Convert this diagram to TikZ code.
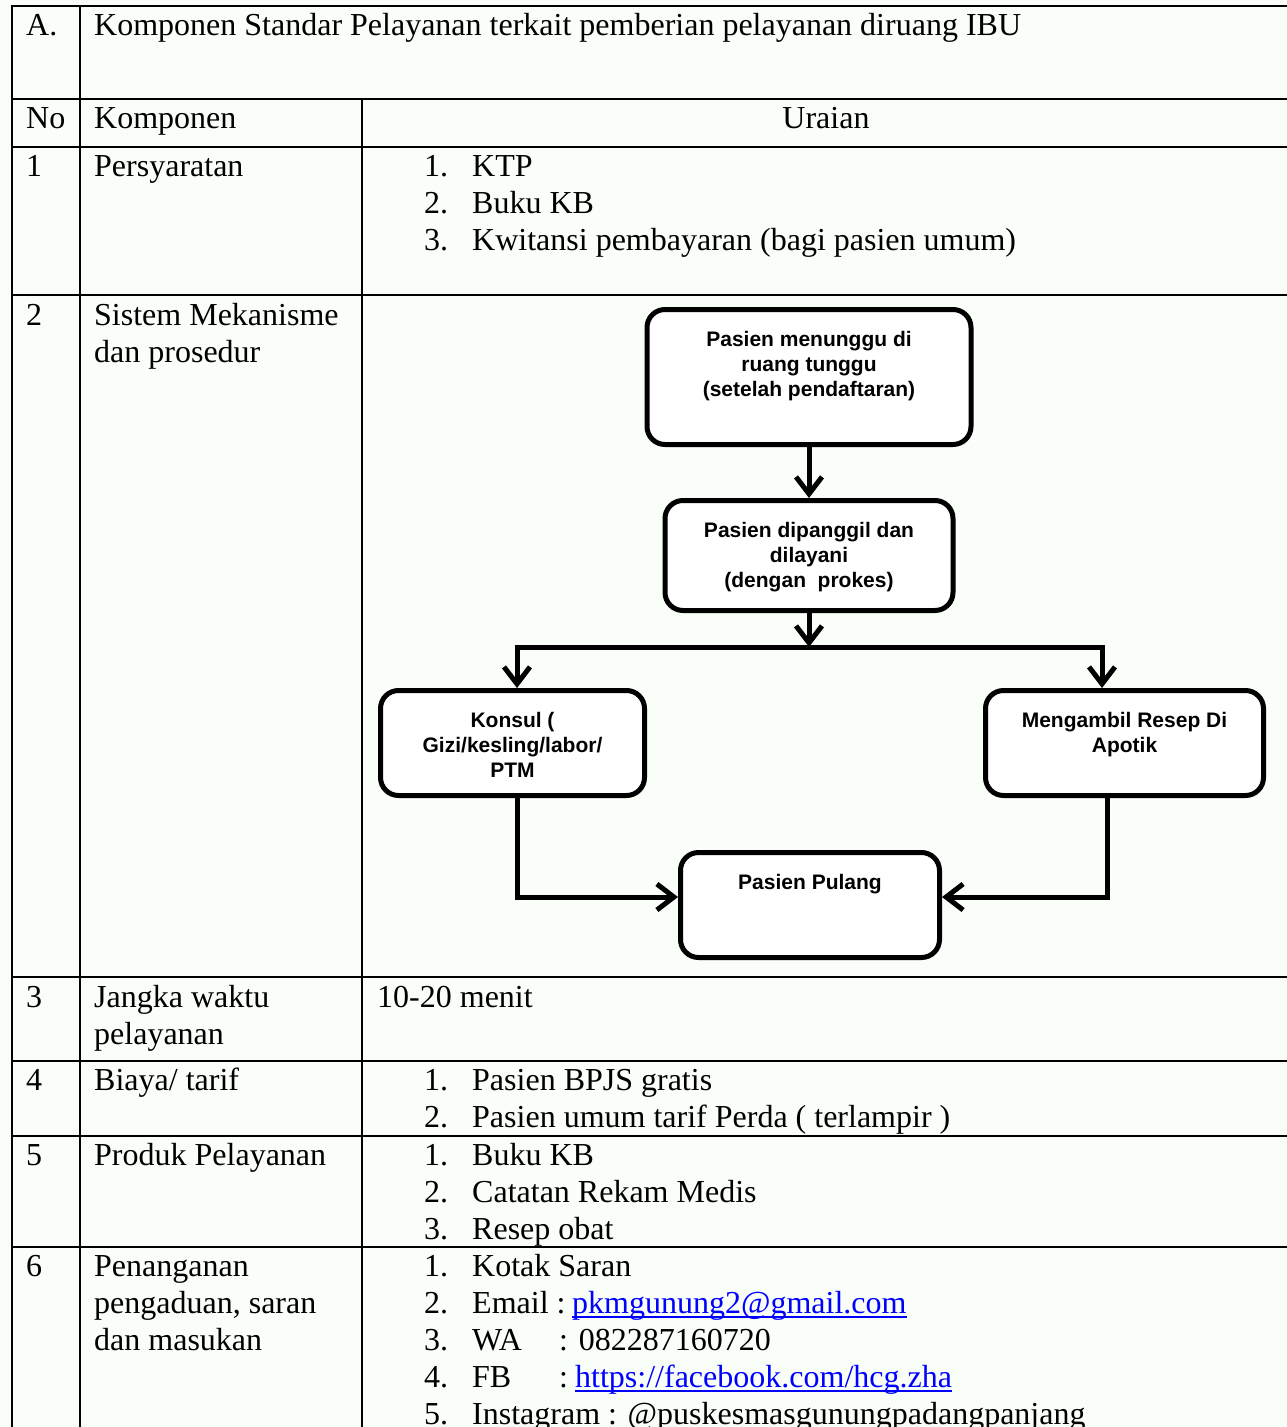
\documentclass[tikz,border=0pt]{standalone}
\usepackage{fontspec}
\setmainfont{Liberation Serif}
\newfontfamily\flowfont{Liberation Sans}
\usetikzlibrary{arrows.meta,positioning}
\definecolor{pagetint}{RGB}{249,254,249}
\definecolor{linkblue}{RGB}{0,0,255}
\tikzset{
  gridline/.style={black, line width=2pt},
  txt/.style={anchor=base west, inner sep=0pt, font=\fontsize{32}{37}\selectfont},
  flowbox/.style={draw, line width=5pt, rounded corners=18pt, fill=white},
  flowtext/.style={anchor=north, inner sep=0pt, align=center, font=\flowfont\bfseries\fontsize{21}{25}\selectfont},
  flowarrow/.style={line width=5pt, -{Straight Barb[length=17pt,width=26pt]}},
  linkline/.style={linkblue, line width=1.6pt}
}
\begin{document}
\begin{tikzpicture}[x=1pt,y=-1pt]
\fill[pagetint] (0,0) rectangle (1287,1427);
\useasboundingbox (0,0) rectangle (1287,1427);

% table grid
\foreach \y in {6,99,147,295,977,1061,1136,1247}{
	\draw[gridline](11,\y)--(1287,\y);
}
\draw[gridline](12,5)--(12,1427);
\draw[gridline](80,5)--(80,1427);
\draw[gridline](362,98)--(362,1427);

% header rows
\node[txt] (hA) at (26,35) {A.};
\node[txt] (htitle) at (94,35) {Komponen Standar Pelayanan terkait pemberian pelayanan diruang IBU};
\node[txt] (hno) at (26,128) {No};
\node[txt] (hkomp) at (94,128) {Komponen};
\node[txt, anchor=base] (hurai) at (826,128) {Uraian};

% no and komponen columns
\foreach \n/\y in {1/176,2/325,3/1007,4/1090,5/1165,6/1276}{
	\node[txt] (no\n) at (26,\y) {\n};
}
\foreach \name/\y/\txt in {kompA/176/Persyaratan, kompB/325/Sistem Mekanisme, kompBb/362/dan prosedur,
	kompC/1007/Jangka waktu, kompCb/1044/pelayanan, kompD/1090/{Biaya/ tarif}, kompE/1165/Produk Pelayanan,
	kompF/1276/Penanganan, kompFb/1313/{pengaduan, saran}, kompFc/1350/dan masukan}{
	\node[txt] (\name) at (94,\y) {\txt};
}

% uraian column
\foreach \k/\txt in {1/KTP, 2/Buku KB, 3/Kwitansi pembayaran (bagi pasien umum)}{
	\node[txt] (syaratno\k) at (424,{176+37*(\k-1)}) {\k.};
	\node[txt] (syarat\k) at (472,{176+37*(\k-1)}) {\txt};
}
\node[txt] (waktu) at (377,1007) {10-20 menit};
\foreach \k/\txt in {1/Pasien BPJS gratis, 2/Pasien umum tarif Perda ( terlampir )}{
	\node[txt] (biayano\k) at (424,{1090+37*(\k-1)}) {\k.};
	\node[txt] (biaya\k) at (472,{1090+37*(\k-1)}) {\txt};
}
\foreach \k/\txt in {1/Buku KB, 2/Catatan Rekam Medis, 3/Resep obat}{
	\node[txt] (produkno\k) at (424,{1165+37*(\k-1)}) {\k.};
	\node[txt] (produk\k) at (472,{1165+37*(\k-1)}) {\txt};
}
\foreach \k in {1,...,5}{
	\node[txt] (saranno\k) at (424,{1276+37*(\k-1)}) {\k.};
}
\node[txt] (saran1) at (472,1276) {Kotak Saran};
\node[txt] (saran2) at (472,1313) {Email :};
\node[txt, text=linkblue] (email) at (572,1313) {pkmgunung2@gmail.com};
\draw[linkline] ([yshift=-4pt]email.base west)--([yshift=-4pt]email.base east);
\node[txt] (saran3) at (472,1350) {WA};
\node[txt] (wa) at (559,1350) {: 082287160720};
\node[txt] (saran4) at (472,1387) {FB};
\node[txt] (fbcolon) at (559,1387) {:};
\node[txt, text=linkblue] (fb) at (575,1387) {https://facebook.com/hcg.zha};
\draw[linkline] ([yshift=-4pt]fb.base west)--([yshift=-4pt]fb.base east);
\node[txt] (saran5) at (472,1424) {Instagram : @puskesmasgunungpadangpanjang};

% flowchart boxes
\node[flowbox, minimum width=324pt, minimum height=135pt] (tunggu) at (809,377) {};
\node[flowtext, below=24pt of tunggu.north] (tunggutxt) {Pasien menunggu di\\ruang tunggu\\(setelah pendaftaran)};
\node[flowbox, minimum width=288pt, minimum height=110pt] (dipanggil) at (809,555.5) {};
\node[flowtext, below=24pt of dipanggil.north] (dipanggiltxt) {Pasien dipanggil dan\\dilayani\\(dengan~ prokes)};
\node[flowbox, minimum width=264pt, minimum height=105pt] (konsul) at (512.5,743) {};
\node[flowtext, below=24pt of konsul.north] (konsultxt) {Konsul (\\Gizi/kesling/labor/\\PTM};
\node[flowbox, minimum width=278pt, minimum height=105pt] (ambil) at (1124.5,743) {};
\node[flowtext, below=24pt of ambil.north] (ambiltxt) {Mengambil Resep Di\\Apotik};
\node[flowbox, minimum width=259pt, minimum height=105pt] (pulang) at (810,905) {};
\node[flowtext, below=24pt of pulang.north] (pulangtxt) {Pasien Pulang};

% connectors
\coordinate (cabang) at (809,647);
\draw[flowarrow] (tunggu)--(dipanggil);
\draw[flowarrow] (dipanggil)--(cabang);
\draw[flowarrow] (cabang) -| ([xshift=4.5pt]konsul.north);
\draw[flowarrow] (cabang) -| ([xshift=-22.5pt]ambil.north);
\draw[flowarrow] ([xshift=4.5pt]konsul.south) |- ([yshift=8pt]pulang.west);
\draw[flowarrow] ([xshift=-17.5pt]ambil.south) |- ([yshift=8pt]pulang.east);
\end{tikzpicture}
\end{document}
